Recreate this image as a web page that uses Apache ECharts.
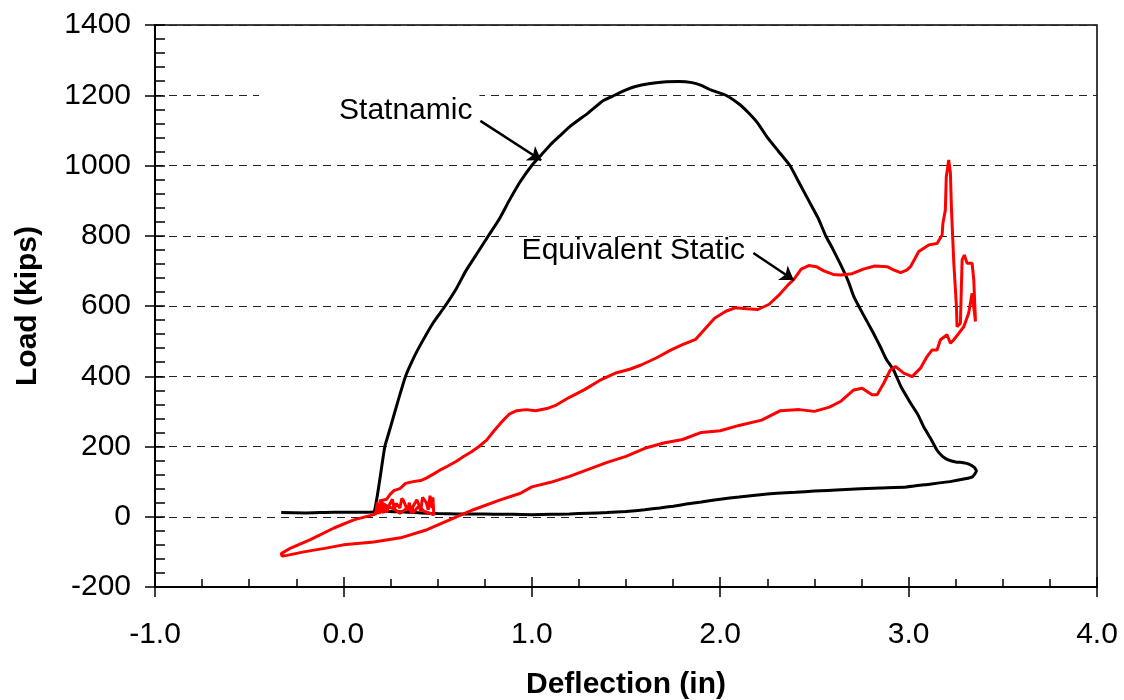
<!DOCTYPE html>
<html>
<head>
<meta charset="utf-8">
<script src="https://cdn.jsdelivr.net/npm/echarts@6/dist/echarts.min.js"></script>
<style>
html,body{margin:0;padding:0;background:#fff;}
#chart{width:1124px;height:700px;}
</style>
</head>
<body>
<div id="chart"></div>
<script>
// ---- data ----
const xTicks = [-1.0, 0.0, 1.0, 2.0, 3.0, 4.0];
const yTicks = [-200, 0, 200, 400, 600, 800, 1000, 1200, 1400];

const statX = [-0.33,-0.2,-0.05,0.1,0.16,0.18,0.2,0.22,0.25,0.29,0.33,0.38,0.42,0.48,0.54,0.6,0.65,0.71,0.77,0.83,0.88,0.94,1.0,1.05,1.1,1.15,1.2,1.3,1.38,1.44,1.5,1.55,1.62,1.7,1.78,1.85,1.9,1.95,2.03,2.1,2.15,2.2,2.25,2.31,2.37,2.42,2.47,2.52,2.56,2.6,2.64,2.68,2.71,2.76,2.81,2.85,2.88,2.92,2.96,3.01,3.05,3.08,3.12,3.15,3.18,3.21,3.25,3.29,3.32,3.35,3.36,3.34,3.3,3.22,3.1,2.99,2.85,2.64,2.5,2.4,2.3,2.2,2.1,2.0,1.9,1.82,1.75,1.68,1.6,1.5,1.4,1.3,1.2,1.1,1.0,0.9,0.8,0.7,0.6,0.5,0.45,0.38,0.3,0.24,0.17];
const statY = [12,11,13,13,14,60,130,200,255,330,400,460,500,555,600,650,700,750,800,850,900,955,1000,1030,1060,1085,1110,1150,1185,1200,1215,1225,1233,1238,1239,1236,1228,1215,1200,1175,1150,1120,1080,1040,1000,950,900,850,800,760,717,670,626,575,526,484,450,418,370,324,290,256,220,190,172,162,156,154,150,140,130,114,108,100,92,85,82,77,73,70,67,62,56,50,42,36,30,25,20,15,12,10,8,7,6,7,7,8,8,9,10,12,14,15,16];

const eqX = [0.17,0.18,0.19,0.2,0.21,0.22,0.23,0.24,0.26,0.27,0.28,0.3,0.31,0.32,0.34,0.35,0.36,0.37,0.39,0.4,0.41,0.42,0.44,0.45,0.46,0.47,0.475,0.48,0.46,0.43,0.4,0.37,0.34,0.3,0.27,0.24,0.21,0.19,0.2,0.23,0.25,0.27,0.3,0.33,0.37,0.41,0.44,0.48,0.52,0.55,0.6,0.64,0.68,0.72,0.76,0.8,0.84,0.88,0.92,0.97,1.02,1.08,1.13,1.2,1.28,1.36,1.45,1.52,1.58,1.66,1.74,1.8,1.87,1.92,1.97,2.03,2.08,2.14,2.2,2.26,2.31,2.36,2.39,2.43,2.47,2.51,2.55,2.6,2.64,2.7,2.76,2.82,2.886,2.92,2.957,2.99,3.01,3.054,3.107,3.151,3.178,3.182,3.195,3.2,3.213,3.222,3.227,3.24,3.254,3.257,3.275,3.284,3.296,3.31,3.337,3.346,3.355,3.337,3.319,3.293,3.267,3.24,3.222,3.204,3.169,3.151,3.125,3.098,3.063,3.019,2.974,2.93,2.903,2.868,2.833,2.806,2.753,2.709,2.638,2.58,2.5,2.42,2.32,2.22,2.1,2.0,1.9,1.8,1.7,1.6,1.5,1.4,1.3,1.2,1.1,1.0,0.94,0.833,0.69,0.585,0.444,0.303,0.161,0.0,-0.1,-0.21,-0.3,-0.325,-0.33,-0.28,-0.175,-0.05,0.055,0.161,0.19,0.22];
const eqY = [5,40,8,45,10,35,12,30,50,20,38,25,52,45,18,40,10,30,48,35,15,55,40,20,60,25,55,5,10,15,30,12,25,10,22,28,38,45,50,50,65,75,80,95,100,103,110,122,135,143,158,172,185,200,218,245,270,292,302,305,302,308,318,340,362,388,410,420,432,452,475,490,505,535,565,585,595,592,590,605,630,660,675,705,715,712,700,690,688,692,705,714,712,703,695,702,712,755,774,778,802,835,873,968,1016,978,883,722,598,541,551,731,745,722,722,674,556,636,580,541,523,504,494,518,504,475,475,456,423,399,409,428,418,380,347,347,366,361,328,312,300,305,302,275,260,245,240,220,210,195,172,155,135,115,98,85,67,48,20,-4,-37,-60,-72,-80,-90,-100,-110,-112,-105,-89,-65,-32,-9,6,15,20];

const seriesNames = ['Statnamic', 'Equivalent Static'];
// annotation anchors (data coords): label anchor, arrow start, arrow tip
const statLabelAt = [0.722, 1156];
const statArrow = [[0.727, 1127], [1.05, 1015]];
const eqLabelAt = [1.539, 757];
const eqArrow = [[2.176, 751], [2.39, 674]];

// ---- chart ----
const FONT = '"Liberation Sans", Arial, sans-serif';
const zip = (xs, ys) => xs.map((x, i) => [x, ys[i]]);
const chart = echarts.init(document.getElementById('chart'), null, {renderer: 'canvas'});

const baseX = {
  type: 'value', min: xTicks[0], max: xTicks[xTicks.length - 1], interval: 1,
  gridIndex: 0, position: 'bottom'
};
const baseY = {
  type: 'value', min: yTicks[0], max: yTicks[yTicks.length - 1], interval: 200,
  gridIndex: 0, position: 'left'
};
const tickStyle = {color: '#000', width: 1.5};

chart.setOption({
  backgroundColor: '#fff',
  animation: false,
  grid: {left: 155, right: 27, top: 25, bottom: 113, containLabel: false, outerBoundsMode: 'none',
    show: true, borderColor: '#000', borderWidth: 1.5, backgroundColor: 'transparent'},
  xAxis: [
    Object.assign({}, baseX, {
      name: 'Deflection (in)', nameLocation: 'middle', nameGap: 83,
      nameTextStyle: {fontFamily: FONT, fontSize: 30, fontWeight: 'bold', color: '#000'},
      axisLine: {show: true, onZero: false, lineStyle: {color: '#000', width: 2}},
      axisTick: {show: true, inside: true, length: 10, lineStyle: tickStyle},
      minorTick: {show: true, splitNumber: 4, length: 8, lineStyle: tickStyle},
      axisLabel: {show: true, margin: 33, fontFamily: FONT, fontSize: 30, color: '#000',
        formatter: v => v.toFixed(1)},
      splitLine: {show: false}
    }),
    Object.assign({}, baseX, {
      axisLine: {show: false, onZero: false},
      axisTick: {show: true, inside: false, length: 10, lineStyle: tickStyle},
      axisLabel: {show: false}, splitLine: {show: false}
    })
  ],
  yAxis: [
    Object.assign({}, baseY, {
      name: 'Load (kips)', nameLocation: 'middle', nameGap: 112, nameRotate: 90,
      nameTextStyle: {fontFamily: FONT, fontSize: 30, fontWeight: 'bold', color: '#000'},
      axisLine: {show: true, onZero: false, lineStyle: {color: '#000', width: 2}},
      axisTick: {show: true, inside: true, length: 10, lineStyle: tickStyle},
      minorTick: {show: true, splitNumber: 5, length: 10, lineStyle: tickStyle},
      axisLabel: {show: true, margin: 24, fontFamily: FONT, fontSize: 30, color: '#000',
        formatter: v => String(v)},
      splitLine: {show: true, lineStyle: {color: '#222', width: 1, type: [8, 6]}}
    }),
    Object.assign({}, baseY, {
      axisLine: {show: false, onZero: false},
      axisTick: {show: true, inside: false, length: 10, lineStyle: tickStyle},
      axisLabel: {show: false}, splitLine: {show: false}
    })
  ],
  series: [
    {
      type: 'scatter', name: 'statLabel', symbolSize: 0, z: 1,
      data: [statLabelAt], silent: true, itemStyle: {opacity: 1},
      label: {show: true, position: 'left', distance: 0, formatter: seriesNames[0],
        fontFamily: FONT, fontSize: 30, color: '#000', opacity: 1, backgroundColor: '#fff',
        padding: [6, 7, 6, 80], verticalAlign: 'middle'}
    },
    {
      type: 'scatter', name: 'eqLabel', symbolSize: 0, z: 1,
      data: [eqLabelAt], silent: true, itemStyle: {opacity: 1},
      label: {show: true, position: 'inside', formatter: seriesNames[1],
        fontFamily: FONT, fontSize: 30, color: '#000', opacity: 1}
    },
    {
      type: 'line', name: seriesNames[0], data: zip(statX, statY), showSymbol: false, z: 3,
      smooth: 0.15,
      lineStyle: {color: '#000', width: 3}, silent: true
    },
    {
      type: 'line', name: seriesNames[1], data: zip(eqX, eqY), showSymbol: false, z: 4,
      lineStyle: {color: '#ff0000', width: 3}, silent: true
    },
    {
      type: 'lines', coordinateSystem: 'cartesian2d', z: 5, silent: true,
      symbol: ['none', 'arrow'], symbolSize: 13,
      lineStyle: {color: '#000', width: 2.5, opacity: 1},
      data: [{coords: statArrow}, {coords: eqArrow}]
    }
  ]
});
</script>
</body>
</html>
